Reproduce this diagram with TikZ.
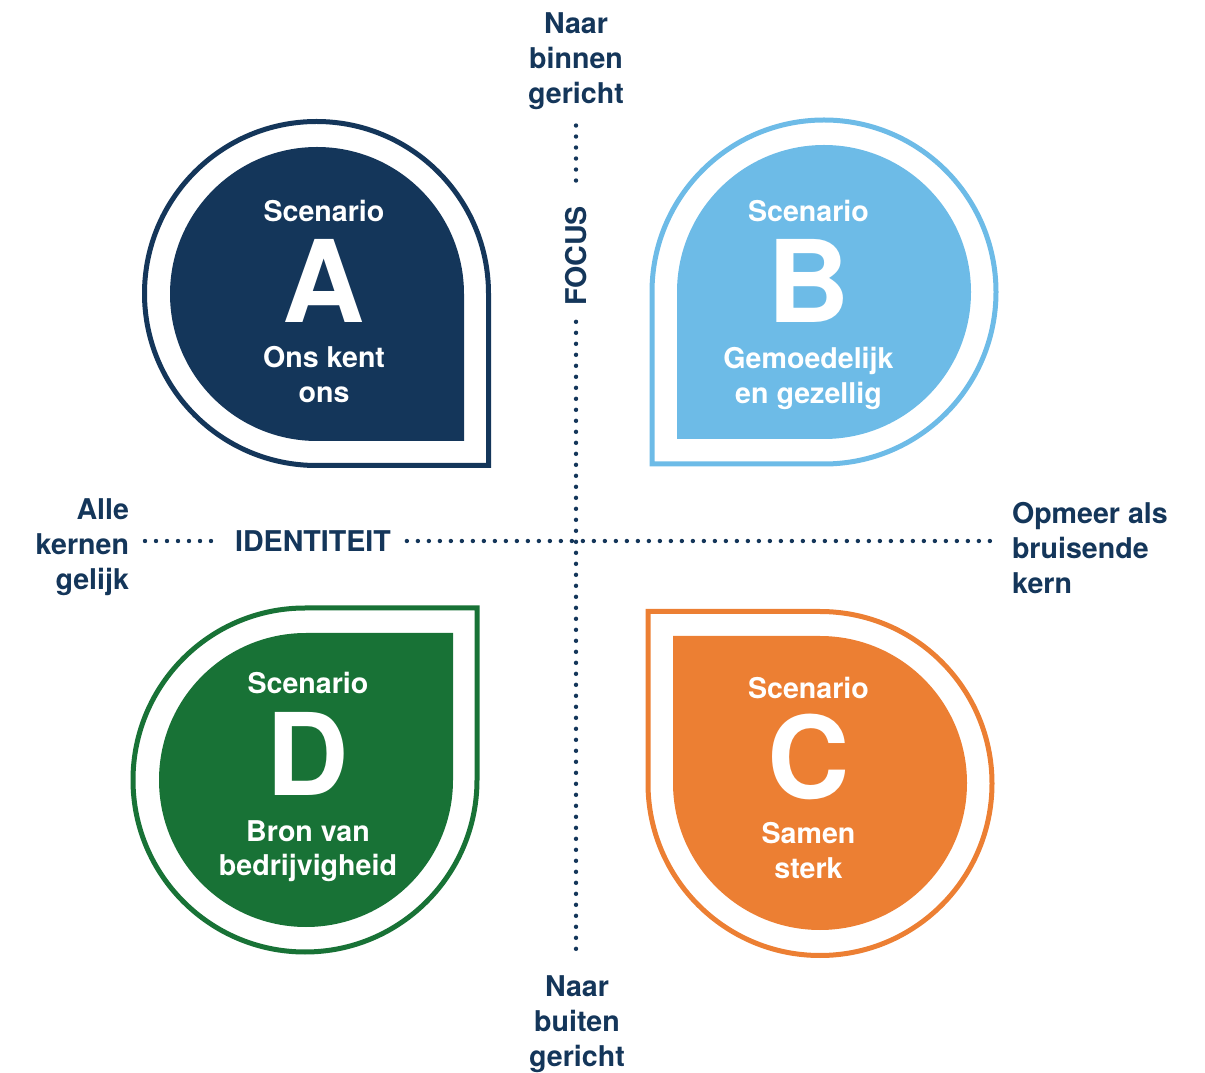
\documentclass[tikz,border=0pt]{standalone}
\usepackage{fontspec}
\setmainfont{TeX Gyre Heros}
\usepackage{tikz}
\usetikzlibrary{calc}

\definecolor{navy}{HTML}{14365A}
\definecolor{skyblue}{HTML}{6DBBE7}
\definecolor{carrot}{HTML}{EC7F33}
\definecolor{leaf}{HTML}{187236}

\tikzstyle{dropline}   = [line width=2.5pt]
\tikzstyle{axislabel}  = [font=\bfseries\fontsize{14.3}{17.5}\selectfont, text=navy, inner sep=0pt, outer sep=8pt]
\tikzstyle{dotaxis}    = [navy, line width=2.2pt, line cap=round, dash pattern=on 0pt off 5.5pt]
\tikzstyle{scentitle}  = [font=\bfseries\fontsize{14.3}{17.5}\selectfont, text=white, anchor=base, inner sep=0pt]
\tikzstyle{scenletter} = [font=\bfseries\fontsize{57}{57}\selectfont, text=white, anchor=base, inner sep=0pt]
\tikzstyle{scenlabel}  = [font=\bfseries\fontsize{14.3}{17.5}\selectfont, text=white, align=center, anchor=base, inner sep=0pt]

\begin{document}
\begin{tikzpicture}[x=0.5pt, y=0.5pt]
        \useasboundingbox (0,0) rectangle (1205,1072);

        % scenario A, corner bottom right
        \draw[dropline, navy, shift={(316.5,778.5)}] (172,0) arc[start angle=0, end angle=270, radius=172] -- (172,-172) -- cycle;
        \fill[navy, shift={(317,778)}] (147,0) arc[start angle=0, end angle=270, radius=147] -- (147,-147) -- cycle;
        % scenario B, corner bottom left
        \draw[dropline, skyblue, shift={(824,780)}, rotate=-90] (172,0) arc[start angle=0, end angle=270, radius=172] -- (172,-172) -- cycle;
        \fill[skyblue, shift={(824,780)}, rotate=-90] (147,0) arc[start angle=0, end angle=270, radius=147] -- (147,-147) -- cycle;
        % scenario C, corner top left
        \draw[dropline, carrot, shift={(820,288.5)}, rotate=180] (172,0) arc[start angle=0, end angle=270, radius=172] -- (172,-172) -- cycle;
        \fill[carrot, shift={(820,289)}, rotate=180] (147,0) arc[start angle=0, end angle=270, radius=147] -- (147,-147) -- cycle;
        % scenario D, corner top right
        \draw[dropline, leaf, shift={(305,292)}, rotate=90] (172,0) arc[start angle=0, end angle=270, radius=172] -- (172,-172) -- cycle;
        \fill[leaf, shift={(306,292)}, rotate=90] (147,0) arc[start angle=0, end angle=270, radius=147] -- (147,-147) -- cycle;

        % the base of a two-line label is its last line
        \node[scentitle]  (titleA)  at (324,850) {Scenario};
        \node[scenletter] (letterA) at (324,749) {A};
        \node[scenlabel]  (labelA)  at (324,669) {Ons kent\\ons};

        \node[scentitle]  (titleB)  at (808.5,850) {Scenario};
        \node[scenletter] (letterB) at (808.5,749) {B};
        \node[scenlabel]  (labelB)  at (808.5,668) {Gemoedelijk\\en gezellig};

        \node[scentitle]  (titleC)  at (808.5,373) {Scenario};
        \node[scenletter] (letterC) at (808.5,274) {C};
        \node[scenlabel]  (labelC)  at (808.5,193) {Samen\\sterk};

        \node[scentitle]  (titleD)  at (308,378) {Scenario};
        \node[scenletter] (letterD) at (308,277) {D};
        \node[scenlabel]  (labelD)  at (308,196) {Bron van\\bedrijvigheid};

        % axes
        \node[axislabel, align=center] (binnen) at (576,1011) {Naar\\binnen\\gericht};
        \node[axislabel, align=center] (buiten) at (577,48) {Naar\\buiten\\gericht};
        \node[axislabel, align=right, anchor=east] (alle) at (145,525) {Alle\\kernen\\gelijk};
        \node[axislabel, align=left, anchor=west] (opmeer) at (996,524) {Opmeer als\\bruisende\\kern};
        \node[axislabel, rotate=90] (focus) at (576,816) {FOCUS};
        \node[axislabel] (ident) at (313,531) {IDENTITEIT};

        \draw[dotaxis] (binnen) -- (focus);
        \draw[dotaxis] (focus) -- ($(focus |- buiten.north)+(0,2)$);
        \draw[dotaxis] (alle.east |- ident) -- (ident);
        \draw[dotaxis] (ident) -- (opmeer.west |- ident);
    \end{tikzpicture}
\end{document}
